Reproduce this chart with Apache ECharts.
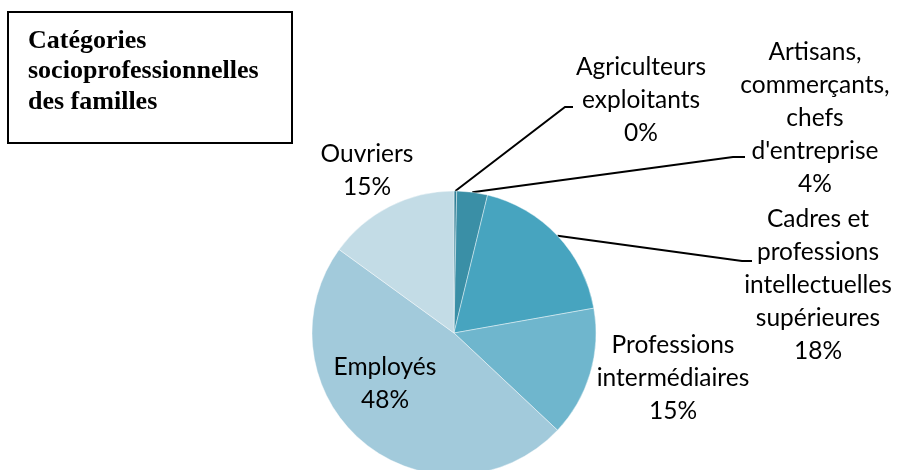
<!DOCTYPE html>
<html>
<head>
<meta charset="utf-8">
<script src="https://cdn.jsdelivr.net/npm/echarts@6/dist/echarts.min.js"></script>
<style>
html,body{margin:0;padding:0;background:#fff;}
#c{width:897px;height:470px;}
</style>
</head>
<body>
<div id="c"></div>
<script>
const categories = ['Agriculteurs exploitants', 'Artisans, commerçants, chefs d\'entreprise', 'Cadres et professions intellectuelles supérieures', 'Professions intermédiaires', 'Employés', 'Ouvriers'];
const labelLines = [
  ['Agriculteurs', 'exploitants'],
  ['Artisans,', 'commerçants,', 'chefs', 'd\'entreprise'],
  ['Cadres et', 'professions', 'intellectuelles', 'supérieures'],
  ['Professions', 'intermédiaires'],
  ['Employés'],
  ['Ouvriers']
];
const values = [0.3, 3.5, 18.4, 14.8, 48.0, 15.0];
const colors = ['#2E7E96', '#3A8FA6', '#47A4BF', '#6FB6CD', '#A2CADB', '#C3DCE6'];
const titleLines = ['Catégories', 'socioprofessionnelles', 'des familles'];

// label placement (centre of each label block) and leader-line elbow/end
const labelPos = [[641, 100], [815, 118], [818, 285], [673, 378], [385, 384], [367, 171]];
const lineBends = [[[565, 107], [573, 107]], [[733, 157], [745, 157]], [[742, 261], [752, 261]], null, null, null];

const chart = echarts.init(document.getElementById('c'), null, {renderer: 'canvas'});
chart.setOption({
  backgroundColor: '#fff',
  animation: false,
  graphic: [
    {type: 'rect', shape: {x: 8, y: 12, width: 284, height: 131}, style: {fill: '#fff', stroke: '#000', lineWidth: 2}},
    {type: 'text', left: 28, top: 26, style: {text: titleLines.join('\n'), font: 'bold 26px "Liberation Serif", "Times New Roman", serif', lineHeight: 30.5, fill: '#000'}}
  ],
  series: [{
    type: 'pie',
    center: [454, 333],
    radius: 142,
    startAngle: 90,
    clockwise: true,
    avoidLabelOverlap: false,
    itemStyle: {borderColor: 'rgba(255,255,255,0.7)', borderWidth: 0.6},
    label: {
      show: true,
      position: 'outside',
      color: '#000',
      fontFamily: 'Lato',
      fontSize: 24.5,
      lineHeight: 33,
      align: 'center',
      formatter: p => labelLines[p.dataIndex].join('\n') + '\n' + Math.round(p.percent) + '%'
    },
    labelLine: {show: true, lineStyle: {color: '#000', width: 2}, length: 20, length2: 10, smooth: false},
    labelLayout: function (params) {
      const i = params.dataIndex;
      const res = {x: labelPos[i][0], y: labelPos[i][1], align: 'center', verticalAlign: 'middle'};
      if (lineBends[i] && params.labelLinePoints) {
        res.labelLinePoints = [params.labelLinePoints[0], lineBends[i][0], lineBends[i][1]];
      }
      return res;
    },
    data: categories.map((name, i) => ({
      name: name,
      value: values[i],
      itemStyle: {color: colors[i]},
      labelLine: {show: !!lineBends[i]}
    }))
  }]
});
</script>
</body>
</html>
